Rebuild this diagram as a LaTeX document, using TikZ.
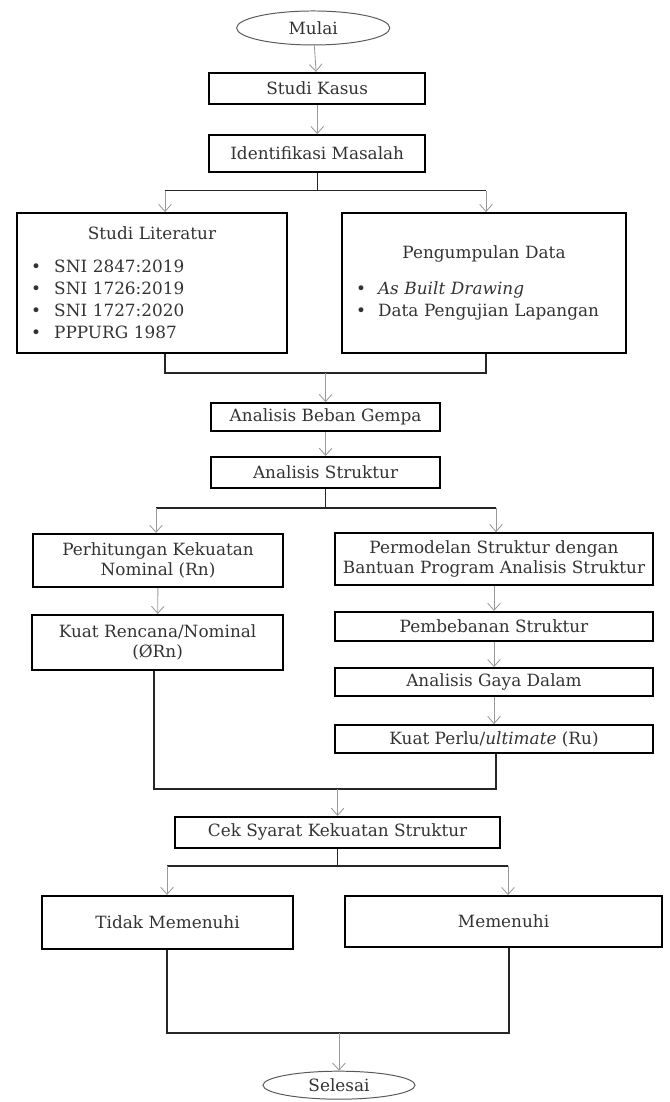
\documentclass[tikz,border=0pt]{standalone}
\usepackage{fontspec}
\setmainfont{DejaVu Serif}
\usetikzlibrary{shapes.geometric,arrows.meta}
\tikzset{
  flowbox/.style={draw, line width=1.3pt, rectangle, inner sep=2pt, align=center,
    font=\fontsize{12}{14.5}\selectfont, text=black!80},
  listbox/.style={flowbox, align=left, inner xsep=0.35cm, font=\fontsize{12}{15.6}\selectfont},
  termnode/.style={draw=black!65, line width=0.7pt, ellipse, inner sep=0pt,
    font=\fontsize{12}{14.5}\selectfont, text=black!80},
  arrowline/.style={-{Straight Barb[length=5pt,width=9pt]}, draw=black!40, line width=0.6pt},
  joinline/.style={draw=black!85, line width=0.9pt}
}
\begin{document}
\begin{tikzpicture}
\useasboundingbox (0,0) rectangle (16.75,27.55);
\node[termnode, minimum width=3.83cm, minimum height=0.85cm] at (7.83, 26.85) (mulai) {Mulai};
\node[flowbox, minimum width=5.4cm, minimum height=0.78cm] at (7.93, 25.34) (kasus) {Studi Kasus};
\node[flowbox, minimum width=5.4cm, minimum height=0.93cm] at (7.93, 23.71) (masalah) {Identifikasi Masalah};
\draw[arrowline] (mulai) -- (kasus);
\draw[arrowline] (kasus) -- (masalah);
\node[listbox, text width=6.05cm, minimum height=3.5cm] at (3.8, 20.475) (literatur) {%
  \centerline{Studi Literatur}\par\vspace{8pt}
  \makebox[0.58cm][l]{\textbullet}SNI 2847:2019\\
  \makebox[0.58cm][l]{\textbullet}SNI 1726:2019\\
  \makebox[0.58cm][l]{\textbullet}SNI 1727:2020\\
  \makebox[0.58cm][l]{\textbullet}PPPURG 1987};
\node[listbox, text width=6.4cm, minimum height=3.5cm] at (12.1, 20.475) (data) {%
  \centerline{Pengumpulan Data}\par\vspace{10pt}
  \makebox[0.55cm][l]{\textbullet}\textit{As Built Drawing}\\
  \makebox[0.55cm][l]{\textbullet}Data Pengujian Lapangan};
\coordinate (s1l) at (4.125, 22.78);
\coordinate (s1r) at (12.15, 22.78);
\draw[joinline] (masalah.south) -- (masalah.south |- s1l);
\draw[joinline] (s1l) -- (s1r);
\draw[arrowline] (s1l) -- (literatur.north -| s1l);
\draw[arrowline] (s1r) -- (data.north -| s1r);
\node[flowbox, minimum width=5.73cm, minimum height=0.7cm] at (8.14, 17.125) (gempa) {Analisis Beban Gempa};
\node[flowbox, minimum width=5.73cm, minimum height=0.78cm] at (8.14, 15.74) (struktur) {Analisis Struktur};
\coordinate (j1l) at (4.125, 18.225);
\coordinate (j1r) at (12.15, 18.225);
\draw[joinline] (literatur.south -| j1l) -- (j1l) -- (j1r) -- (data.south -| j1r);
\draw[arrowline] (gempa.north |- j1l) -- (gempa);
\draw[arrowline] (gempa) -- (struktur);
\node[flowbox, minimum width=6.25cm, minimum height=1.33cm] at (3.95, 13.54) (rn) {Perhitungan Kekuatan\\Nominal (Rn)};
\node[flowbox, minimum width=6.28cm, minimum height=1.38cm] at (3.94, 11.49) (phirn) {Kuat Rencana/Nominal\\(ØRn)};
\node[flowbox, minimum width=7.95cm, minimum height=1.3cm] at (12.35, 13.575) (model) {Permodelan Struktur dengan\\Bantuan Program Analisis Struktur};
\node[flowbox, minimum width=7.95cm, minimum height=0.73cm] at (12.35, 11.89) (beban) {Pembebanan Struktur};
\node[flowbox, minimum width=7.95cm, minimum height=0.7cm] at (12.35, 10.5) (gaya) {Analisis Gaya Dalam};
\node[flowbox, minimum width=7.95cm, minimum height=0.7cm] at (12.35, 9.075) (ru) {Kuat Perlu/\textit{ultimate} (Ru)};
\coordinate (s2l) at (3.9, 14.85);
\coordinate (s2r) at (12.4, 14.85);
\draw[joinline] (struktur.south) -- (struktur.south |- s2l);
\draw[joinline] (s2l) -- (s2r);
\draw[arrowline] (s2l) -- (rn.north -| s2l);
\draw[arrowline] (s2r) -- (model.north -| s2r);
\draw[arrowline] (rn) -- (phirn);
\draw[arrowline] (model) -- (beban);
\draw[arrowline] (beban) -- (gaya);
\draw[arrowline] (gaya) -- (ru);
\node[flowbox, minimum width=8.13cm, minimum height=0.78cm] at (8.44, 6.74) (cek) {Cek Syarat Kekuatan Struktur};
\coordinate (j2l) at (3.85, 7.825);
\coordinate (j2r) at (12.4, 7.825);
\draw[joinline] (phirn.south -| j2l) -- (j2l) -- (j2r) -- (ru.south -| j2r);
\draw[arrowline] (cek.north |- j2l) -- (cek);
\node[flowbox, minimum width=6.28cm, minimum height=1.33cm] at (4.19, 4.49) (tidak) {Tidak Memenuhi};
\node[flowbox, minimum width=7.93cm, minimum height=1.28cm] at (12.59, 4.51) (penuhi) {Memenuhi};
\coordinate (s3l) at (4.175, 5.9);
\coordinate (s3r) at (12.7, 5.9);
\draw[joinline] (cek.south) -- (cek.south |- s3l);
\draw[joinline] (s3l) -- (s3r);
\draw[arrowline] (s3l) -- (tidak.north -| s3l);
\draw[arrowline] (s3r) -- (penuhi.north -| s3r);
\node[termnode, minimum width=3.8cm, minimum height=0.7cm] at (8.475, 0.42) (selesai) {Selesai};
\coordinate (j3l) at (4.175, 1.725);
\coordinate (j3r) at (12.725, 1.725);
\draw[joinline] (tidak.south -| j3l) -- (j3l) -- (j3r) -- (penuhi.south -| j3r);
\draw[arrowline] (selesai.north |- j3l) -- (selesai);
\end{tikzpicture}
\end{document}
